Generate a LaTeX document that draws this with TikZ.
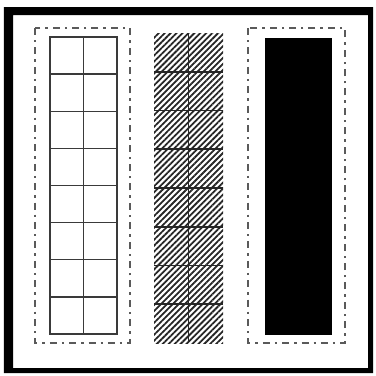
\documentclass[tikz,border=0pt]{standalone}
\usepackage{xcolor}
\definecolor{cFrame}{HTML}{000000}
\definecolor{cGrid}{HTML}{3A3A3A}
\definecolor{cDash}{HTML}{5A5A5A}
\usetikzlibrary{patterns.meta}
\tikzset{
  frame-ring/.style={fill=cFrame,even odd rule},
  box-dashdot/.style={draw=cDash,line width=1pt,
    dash pattern=on 3.5pt off 2.5pt on 1.2pt off 2.5pt},
  cell-line/.style={draw=cGrid,line width=0.65pt},
  cell-line-dark/.style={draw=black!85,line width=0.8pt},
  box-hatch/.style={pattern={Lines[angle=45,distance=2.1pt,line width=0.9pt]},
    pattern color=black!85},
  box-solid/.style={fill=black},
}

\begin{document}
\begin{tikzpicture}[x=0.5pt,y=-0.5pt]
  \useasboundingbox (0,0) rectangle (376,376);
  % outer frame
  \fill[frame-ring] (4,7) rectangle (373,373) (13,15) rectangle (368,368);
  % left column: open grid
  \draw[box-dashdot] (35,28) rectangle (130,343);
  \draw[cell-line] (50,37) rectangle (117,334);
  \draw[cell-line] (83.5,37) -- (83.5,334);
  \foreach \i in {1,...,7}
    \draw[cell-line] (50,{37+\i*37.125}) -- (117,{37+\i*37.125});
  % middle column: hatched grid
  \path[box-hatch] (154,33) rectangle (223,343);
  \draw[cell-line-dark] (188.5,33) -- (188.5,343);
  \foreach \i in {1,...,7}
    \draw[cell-line-dark] (154,{33+\i*38.75}) -- (223,{33+\i*38.75});
  % right column: filled
  \draw[box-dashdot] (248,28) rectangle (345,343);
  \fill[box-solid] (265,38) rectangle (332,335);
\end{tikzpicture}
\end{document}
